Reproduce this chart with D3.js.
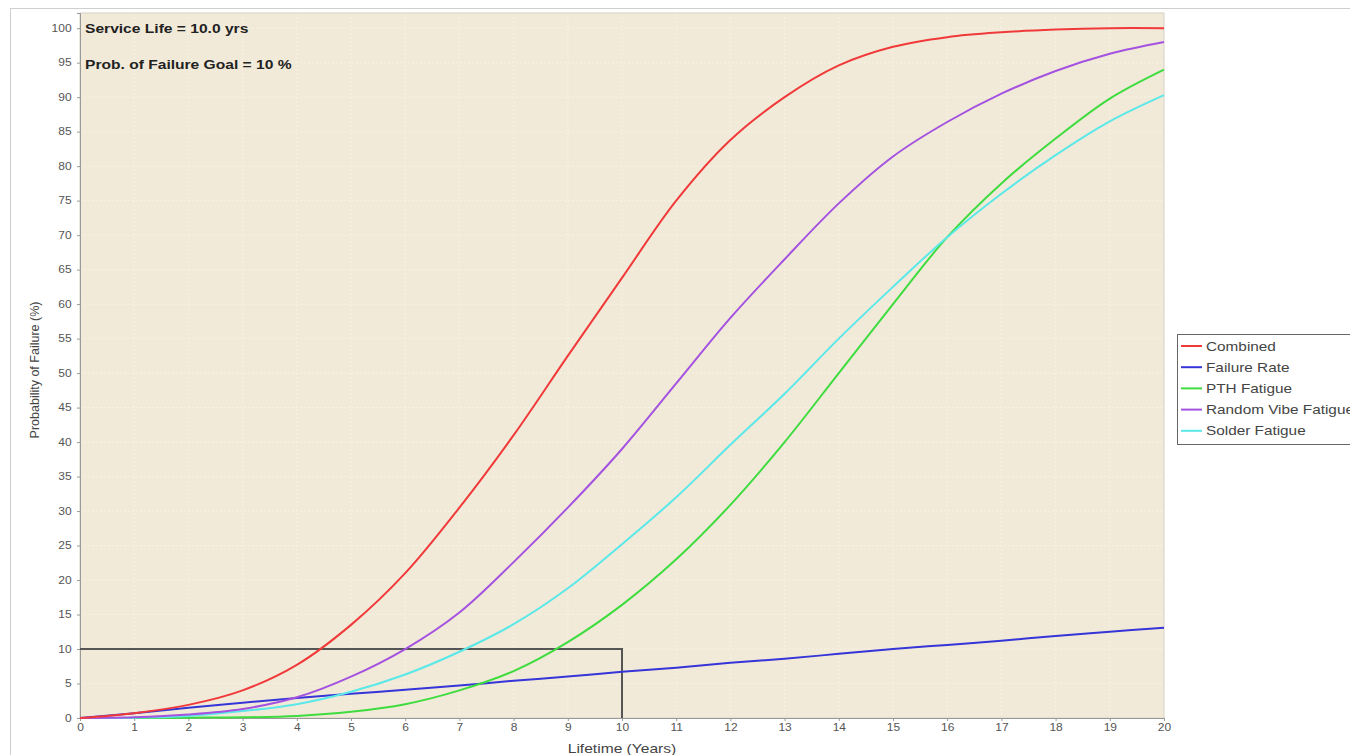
<!DOCTYPE html>
<html>
<head>
<meta charset="utf-8">
<script src="https://cdn.jsdelivr.net/npm/d3@7"></script>
<style>
  body { margin: 0; background: #fff; font-family: "Liberation Sans", Arial, sans-serif; }
  .tick text { fill: #555; font-size: 10px; }
</style>
</head>
<body>
<svg id="chart" width="1350" height="755"></svg>
<script>
// values, % failure per year
var years = [0, 1, 2, 3, 4, 5, 6, 7, 8, 9, 10, 11, 12, 13, 14, 15, 16, 17, 18, 19, 20];
var combined  = [0, 0.7, 1.9, 4.0, 7.7, 13.5, 21.0, 30.5, 41.0, 52.5, 63.8, 75.0, 83.8, 90.0, 94.6, 97.3, 98.7, 99.4, 99.8, 100, 100];
var failRate  = [0, 0.7, 1.5, 2.2, 2.9, 3.5, 4.1, 4.7, 5.4, 6.0, 6.7, 7.3, 8.0, 8.6, 9.3, 10.0, 10.6, 11.2, 11.9, 12.5, 13.1];
var pthFat    = [0, 0, 0.05, 0.1, 0.3, 0.9, 2.0, 4.0, 6.8, 11.0, 16.4, 23.0, 30.9, 40.0, 50.0, 60.0, 69.7, 77.5, 84.0, 89.8, 94.0];
var vibeFat   = [0, 0.1, 0.5, 1.3, 3.0, 6.0, 10.0, 15.3, 22.6, 30.5, 39.0, 48.5, 58.0, 66.5, 74.6, 81.4, 86.4, 90.5, 93.8, 96.3, 98.0];
var solderFat = [0, 0.05, 0.3, 1.0, 2.0, 3.8, 6.3, 9.6, 13.6, 18.8, 25.2, 32.0, 39.6, 47.0, 55.0, 62.5, 69.7, 76.0, 81.6, 86.5, 90.3];
var seriesNames  = ["Combined", "Failure Rate", "PTH Fatigue", "Random Vibe Fatigue", "Solder Fatigue"];
var seriesColors = ["#f03a3a", "#3535d8", "#3edc3e", "#a452e0", "#5ae8e8"];
var serviceLife = 10, goal = 10;
var xTicks = d3.range(0, 21, 1);
var yTicks = d3.range(0, 101, 5);

var svg = d3.select('#chart');
var plotL = 80, plotR = 1164, plotT = 13, plotB = 718;
var stretch = 'scale(1.2,1)';  // the reference text is drawn a bit wide

var x = d3.scaleLinear().domain([0, 20]).range([plotL, plotR]);
var y = d3.scaleLinear().domain([0, 102.2]).range([plotB, plotT]);

// outer frame
svg.append('rect')
    .attr('x', 10.5).attr('y', 8.5)
    .attr('width', 1400).attr('height', 800)
    .attr('fill', 'none').attr('stroke', '#cfcfcf');

// plot background
svg.append('rect')
    .attr('x', plotL).attr('y', plotT)
    .attr('width', plotR - plotL).attr('height', plotB - plotT)
    .attr('fill', '#f2ead9');

// faint grid
var grid = svg.append('g').attr('stroke', '#f8f2e4').attr('stroke-width', 1).attr('stroke-dasharray', '2,2');
grid.selectAll('.gx').data(xTicks.slice(1, -1)).enter().append('line')
    .attr('x1', function(d) { return x(d); }).attr('x2', function(d) { return x(d); })
    .attr('y1', plotT).attr('y2', plotB);
grid.selectAll('.gy').data(yTicks.slice(1)).enter().append('line')
    .attr('x1', plotL).attr('x2', plotR)
    .attr('y1', function(d) { return y(d); }).attr('y2', function(d) { return y(d); });

// plot border
svg.append('rect')
    .attr('x', plotL).attr('y', plotT)
    .attr('width', plotR - plotL).attr('height', plotB - plotT)
    .attr('fill', 'none').attr('stroke', '#d8d2c4');

// axes
var xAxis = svg.append('g')
    .attr('transform', 'translate(0,' + plotB + ')')
    .call(d3.axisBottom(x).tickValues(xTicks).tickSize(3).tickPadding(3).tickFormat(d3.format('d')));
var yAxis = svg.append('g')
    .attr('transform', 'translate(' + plotL + ',0)')
    .call(d3.axisLeft(y).tickValues(yTicks).tickSize(3).tickPadding(4).tickFormat(d3.format('d')));
[xAxis, yAxis].forEach(function(a) {
    a.select('.domain').attr('stroke', '#999');
    a.selectAll('.tick line').attr('stroke', '#999');
    a.selectAll('.tick text').attr('transform', stretch);
});

svg.append('g').attr('transform', 'translate(' + ((plotL + plotR) / 2) + ',753)')
  .append('text')
    .attr('transform', stretch)
    .attr('text-anchor', 'middle')
    .style('font-size', '13px').style('fill', '#444')
    .text('Lifetime (Years)');
svg.append('text')
    .attr('transform', 'translate(39,' + 370 + ') rotate(-90)')
    .attr('text-anchor', 'middle')
    .style('font-size', '12.5px').style('fill', '#444')
    .text('Probability of Failure (%)');

// service life / goal box
svg.append('path')
    .attr('d', 'M' + x(0) + ',' + y(goal) + 'H' + x(serviceLife) + 'V' + y(0))
    .attr('fill', 'none').attr('stroke', '#555').attr('stroke-width', 2);

// curves
var allSeries = [combined, failRate, pthFat, vibeFat, solderFat];
var line = d3.line()
    .x(function(d, i) { return x(years[i]); })
    .y(function(d) { return y(d); })
    .curve(d3.curveCatmullRom.alpha(0.5));
var drawOrder = [1, 2, 4, 3, 0];
svg.append('g').selectAll('path')
    .data(drawOrder).enter().append('path')
    .attr('d', function(k) { return line(allSeries[k]); })
    .attr('fill', 'none')
    .attr('stroke', function(k) { return seriesColors[k]; })
    .attr('stroke-width', 2);

// annotations
var notes = ['Service Life = ' + serviceLife.toFixed(1) + ' yrs', 'Prob. of Failure Goal = ' + goal + ' %'];
svg.selectAll('.note').data(notes).enter().append('g')
    .attr('transform', function(d, i) { return 'translate(85,' + (33 + i * 36) + ')'; })
  .append('text')
    .attr('transform', stretch)
    .style('font-size', '13px').style('font-weight', 'bold').style('fill', '#222')
    .text(function(d) { return d; });

// legend
var lg = svg.append('g');
lg.append('rect')
    .attr('x', 1177.5).attr('y', 334.5).attr('width', 200).attr('height', 110)
    .attr('fill', '#fff').attr('stroke', '#666');
var item = lg.selectAll('.item').data(seriesNames).enter().append('g')
    .attr('transform', function(d, i) { return 'translate(1181,' + (346 + i * 21.2) + ')'; });
item.append('line')
    .attr('x1', 0).attr('x2', 21)
    .attr('stroke', function(d, i) { return seriesColors[i]; })
    .attr('stroke-width', 2);
item.append('g').attr('transform', 'translate(25,4.5)')
  .append('text')
    .attr('transform', 'scale(1.18,1)')
    .style('font-size', '13px').style('fill', '#444')
    .text(function(d) { return d; });
</script>
</body>
</html>
